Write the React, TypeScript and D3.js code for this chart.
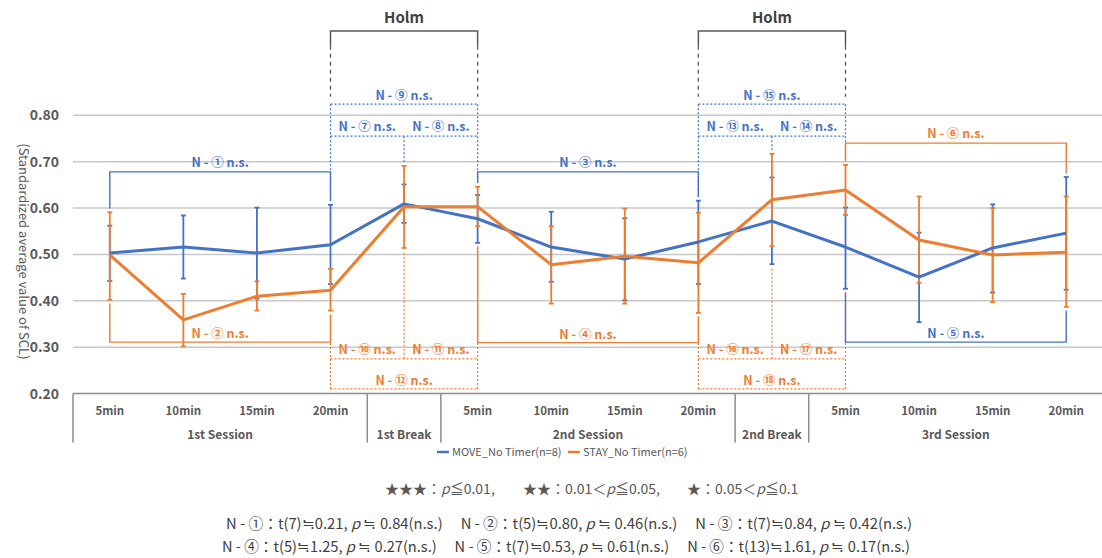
import React from "react";
import * as d3 from "d3";

// ---------- data ----------
const categories = ["s1-5", "s1-10", "s1-15", "s1-20", "b1", "s2-5", "s2-10", "s2-15", "s2-20", "b2", "s3-5", "s3-10", "s3-15", "s3-20"];
const tickLabels = ["5min", "10min", "15min", "20min", "", "5min", "10min", "15min", "20min", "", "5min", "10min", "15min", "20min"];
const groupLabels = ["1st Session", "1st Break", "2nd Session", "2nd Break", "3rd Session"];
const groupSizes = [4, 1, 4, 1, 4];
const yTicks = [0.2, 0.3, 0.4, 0.5, 0.6, 0.7, 0.8];

const moveMean = [0.503, 0.516, 0.503, 0.521, 0.609, 0.577, 0.516, 0.490, 0.527, 0.572, 0.516, 0.451, 0.514, 0.546];
const moveUpper = [0.562, 0.584, 0.601, 0.607, 0.651, 0.628, 0.592, 0.578, 0.616, 0.666, 0.601, 0.547, 0.608, 0.667];
const moveLower = [0.443, 0.448, 0.405, 0.436, 0.568, 0.525, 0.441, 0.401, 0.436, 0.479, 0.426, 0.354, 0.418, 0.424];
const stayMean = [0.499, 0.359, 0.410, 0.423, 0.603, 0.603, 0.478, 0.496, 0.482, 0.618, 0.639, 0.531, 0.499, 0.505];
const stayUpper = [0.591, 0.415, 0.442, 0.469, 0.691, 0.646, 0.561, 0.599, 0.590, 0.717, 0.693, 0.625, 0.600, 0.625];
const stayLower = [0.402, 0.302, 0.379, 0.379, 0.514, 0.561, 0.394, 0.394, 0.374, 0.518, 0.585, 0.439, 0.397, 0.387];

const seriesNames = ["MOVE_No Timer(n=8)", "STAY_No Timer(n=6)"];

// solid comparison brackets
const bracketIds = ["①", "②", "③", "④", "⑤", "⑥"];
const bracketSeries = ["move", "stay", "move", "stay", "move", "stay"];
const bracketFrom = [0, 0, 5, 5, 10, 10];
const bracketTo = [3, 3, 8, 8, 13, 13];
const bracketLevel = [0.678, 0.311, 0.678, 0.310, 0.311, 0.740];
const bracketSide = ["top", "bottom", "top", "bottom", "bottom", "top"];

// Holm groups
const holmFrom = [3, 8];
const holmMid = [4, 9];
const holmTo = [5, 10];
const holmBlueIds = [["⑦", "⑧", "⑨"], ["⑬", "⑭", "⑮"]];
const holmOrangeIds = [["⑩", "⑪", "⑫"], ["⑯", "⑰", "⑱"]];
const holmTop = 0.982;
const holmSolidEnd = 0.95;
const holmDashEnd = 0.84;
const blueOuter = 0.824;
const blueInner = 0.755;
const orangeInner = 0.275;
const orangeOuter = 0.21;

// significance key
const starMarks = ["★★★", "★★", "★"];
const starLow = ["", "0.01＜", "0.05＜"];
const starHigh = ["0.01,", "0.05,", "0.1"];

// statistics
const statIds = ["①", "②", "③", "④", "⑤", "⑥"];
const statDf = ["7", "5", "7", "5", "7", "13"];
const statT = ["0.21", "0.80", "0.84", "1.25", "0.53", "1.61"];
const statP = ["0.84", "0.46", "0.42", "0.27", "0.61", "0.17"];

// ---------- styling ----------
const BLUE = "#4472C4";
const ORANGE = "#ED7D31";
const GREY = "#595959";
const FONT = "'Noto Sans CJK JP', 'Noto Sans', sans-serif";

export default function App() {
  const x = d3.scaleBand<string>().domain(categories).range([73, 1103]).paddingInner(0).paddingOuter(0);
  const bw = x.bandwidth();
  const cx = (i: number) => (x(categories[i]) as number) + bw / 2;
  const y = d3.scaleLinear().domain([0.2, 0.8]).range([393.6, 115.3]);
  const fmt = d3.format(".2f");

  const line = d3
    .line<number>()
    .x((_, i) => cx(i))
    .y((d) => y(d));

  const gap = 0.008;
  const topOf = (i: number) => Math.max(moveUpper[i], stayUpper[i]);
  const botOf = (i: number) => Math.min(moveLower[i], stayLower[i]);

  const y0 = y(0.2);
  const boundaries = [0, 4, 5, 9, 10, 14];
  const boundX = (k: number) => x.range()[0] + k * bw;

  const groupStarts: number[] = [];
  groupSizes.reduce((acc, s) => {
    groupStarts.push(acc);
    return acc + s;
  }, 0);

  const errorBars = (mean: number[], up: number[], lo: number[], color: string) =>
    mean.map((_, i) => (
      <g key={i} stroke={color} strokeWidth={1.8}>
        <line x1={cx(i)} x2={cx(i)} y1={y(up[i])} y2={y(lo[i])} />
        <line x1={cx(i) - 2.5} x2={cx(i) + 2.5} y1={y(up[i])} y2={y(up[i])} />
        <line x1={cx(i) - 2.5} x2={cx(i) + 2.5} y1={y(lo[i])} y2={y(lo[i])} />
      </g>
    ));

  const label = (txt: string, xx: number, yy: number, color: string, key?: string) => (
    <text key={key} x={xx} y={yy} fill={color} fontSize={12.5} fontWeight={700} textAnchor="middle" fontFamily={FONT}>
      {txt}
    </text>
  );

  // clause starts of the significance key (pixels)
  const starX = [385, 523, 687];

  return (
    <svg width={1102} height={558} style={{ position: "absolute", left: 0, top: 0, background: "#fff" }} fontFamily={FONT}>
      {/* gridlines */}
      {yTicks.slice(1).map((t) => (
        <line key={t} x1={73} x2={1103} y1={y(t)} y2={y(t)} stroke="#c8c8c8" strokeWidth={1.5} />
      ))}
      {/* y tick labels */}
      {yTicks.map((t) => (
        <text key={"yl" + t} x={59} y={y(t) + 5} fontSize={14} fontWeight={700} fill={GREY} textAnchor="end">
          {fmt(t)}
        </text>
      ))}
      <text transform={`translate(19,${(y(0.8) + y(0.2)) / 2 - 3}) rotate(90)`} fontSize={13} fill={GREY} textAnchor="middle">
        (Standardized average value of SCL)
      </text>

      {/* x axis box */}
      <line x1={73} x2={1103} y1={y0} y2={y0} stroke="#8c8c8c" strokeWidth={1.5} />
      {boundaries.map((k) => (
        <line key={"b" + k} x1={boundX(k)} x2={boundX(k)} y1={y0} y2={y0 + 49} stroke="#8c8c8c" strokeWidth={1.5} />
      ))}
      {tickLabels.map((t, i) => (
        <text key={"t" + i} x={cx(i)} y={y0 + 21} fontSize={11.5} fontWeight={700} fill={GREY} textAnchor="middle">
          {t}
        </text>
      ))}
      {groupLabels.map((g, gi) => (
        <text
          key={"g" + gi}
          x={boundX(groupStarts[gi]) + (groupSizes[gi] * bw) / 2}
          y={y0 + 45}
          fontSize={12}
          fontWeight={700}
          fill={GREY}
          textAnchor="middle"
        >
          {g}
        </text>
      ))}

      {/* Holm brackets */}
      {holmFrom.map((f, h) => {
        const xl = cx(f);
        const xm = cx(holmMid[h]);
        const xr = cx(holmTo[h]);
        return (
          <g key={"holm" + h}>
            <text x={(xl + xr) / 2} y={y(holmTop) - 8} fontSize={15} fontWeight={700} fill="#404040" textAnchor="middle">
              Holm
            </text>
            <path
              d={`M${xl},${y(holmSolidEnd)}V${y(holmTop)}H${xr}V${y(holmSolidEnd)}`}
              fill="none"
              stroke="#595959"
              strokeWidth={1.5}
            />
            <line x1={xl} x2={xl} y1={y(holmSolidEnd)} y2={y(holmDashEnd)} stroke="#595959" strokeWidth={1.3} strokeDasharray="4,4" />
            <line x1={xr} x2={xr} y1={y(holmSolidEnd)} y2={y(holmDashEnd)} stroke="#595959" strokeWidth={1.3} strokeDasharray="4,4" />
            {/* blue dotted */}
            <g stroke={BLUE} strokeWidth={1.2} strokeDasharray="2,2" fill="none">
              <line x1={xl} x2={xr} y1={y(blueOuter)} y2={y(blueOuter)} />
              <line x1={xl} x2={xr} y1={y(blueInner)} y2={y(blueInner)} />
              <line x1={xl} x2={xl} y1={y(blueOuter)} y2={y(topOf(f) + gap)} />
              <line x1={xr} x2={xr} y1={y(blueOuter)} y2={y(topOf(holmTo[h]) + gap)} />
              <line x1={xm} x2={xm} y1={y(blueInner)} y2={y(topOf(holmMid[h]) + 0.006)} />
            </g>
            {label("N - " + holmBlueIds[h][0] + " n.s.", (xl + xm) / 2, y(blueInner) - 5, BLUE)}
            {label("N - " + holmBlueIds[h][1] + " n.s.", (xm + xr) / 2, y(blueInner) - 5, BLUE)}
            {label("N - " + holmBlueIds[h][2] + " n.s.", xm, y(blueOuter) - 4, BLUE)}
            {/* orange dotted */}
            <g stroke={ORANGE} strokeWidth={1.2} strokeDasharray="2,2" fill="none">
              <line x1={xl} x2={xr} y1={y(orangeOuter)} y2={y(orangeOuter)} />
              <line x1={xl} x2={xr} y1={y(orangeInner)} y2={y(orangeInner)} />
              <line x1={xl} x2={xl} y1={y(orangeOuter)} y2={y(botOf(f) - gap)} />
              <line x1={xr} x2={xr} y1={y(orangeOuter)} y2={y(botOf(holmTo[h]) - gap)} />
              <line x1={xm} x2={xm} y1={y(orangeInner)} y2={y(botOf(holmMid[h]) - 0.008)} />
            </g>
            {label("N - " + holmOrangeIds[h][0] + " n.s.", (xl + xm) / 2, y(orangeInner) - 5, ORANGE)}
            {label("N - " + holmOrangeIds[h][1] + " n.s.", (xm + xr) / 2, y(orangeInner) - 5, ORANGE)}
            {label("N - " + holmOrangeIds[h][2] + " n.s.", xm, y(orangeOuter) - 4, ORANGE)}
          </g>
        );
      })}

      {/* solid brackets */}
      {bracketIds.map((id, b) => {
        const color = bracketSeries[b] === "move" ? BLUE : ORANGE;
        const xl = cx(bracketFrom[b]);
        const xr = cx(bracketTo[b]);
        const ly = y(bracketLevel[b]);
        const isTop = bracketSide[b] === "top";
        const endL = isTop ? y(topOf(bracketFrom[b]) + gap) : y(botOf(bracketFrom[b]) - gap);
        const endR = isTop ? y(topOf(bracketTo[b]) + gap) : y(botOf(bracketTo[b]) - gap);
        return (
          <g key={"br" + b}>
            <path d={`M${xl},${endL}V${ly}H${xr}V${endR}`} fill="none" stroke={color} strokeWidth={1.4} />
            {label("N - " + id + " n.s.", (xl + xr) / 2, ly - (isTop ? 5 : 4), color)}
          </g>
        );
      })}

      {/* error bars */}
      {errorBars(moveMean, moveUpper, moveLower, BLUE)}
      {errorBars(stayMean, stayUpper, stayLower, ORANGE)}

      {/* lines */}
      <path d={line(moveMean) as string} fill="none" stroke={BLUE} strokeWidth={3} strokeLinejoin="round" />
      <path d={line(stayMean) as string} fill="none" stroke={ORANGE} strokeWidth={3} strokeLinejoin="round" />

      {/* legend */}
      <g fontSize={11} fill={GREY}>
        <line x1={437} x2={449} y1={452} y2={452} stroke={BLUE} strokeWidth={2.5} />
        <text x={452} y={456}>{seriesNames[0]}</text>
        <line x1={568} x2={580} y1={452} y2={452} stroke={ORANGE} strokeWidth={2.5} />
        <text x={583} y={456}>{seriesNames[1]}</text>
      </g>

      {/* significance key: one text per clause */}
      {starMarks.map((s, k) => (
        <text key={"sk" + k} x={starX[k]} y={494} fontSize={14} fill={GREY}>
          {s + "：" + starLow[k]}
          <tspan fontStyle="italic">p</tspan>
          {"≦" + starHigh[k]}
        </text>
      ))}

      {/* stats */}
      {[0, 1].map((row) => (
        <text
          key={"st" + row}
          x={row === 0 ? 569 : 566}
          y={row === 0 ? 529 : 552}
          fontSize={14.5}
          fill="#404040"
          textAnchor="middle"
          textLength={row === 0 ? 686 : 688}
          lengthAdjust="spacingAndGlyphs"
        >
          {[0, 1, 2].map((k) => {
            const i = row * 3 + k;
            return (
              <tspan key={i}>
                {(k > 0 ? "　 " : "") + "N - " + statIds[i] + "：t(" + statDf[i] + ")≒" + statT[i] + ", "}
                <tspan fontStyle="italic">p</tspan>
                {" ≒ " + statP[i] + "(n.s.)"}
              </tspan>
            );
          })}
        </text>
      ))}
    </svg>
  );
}
